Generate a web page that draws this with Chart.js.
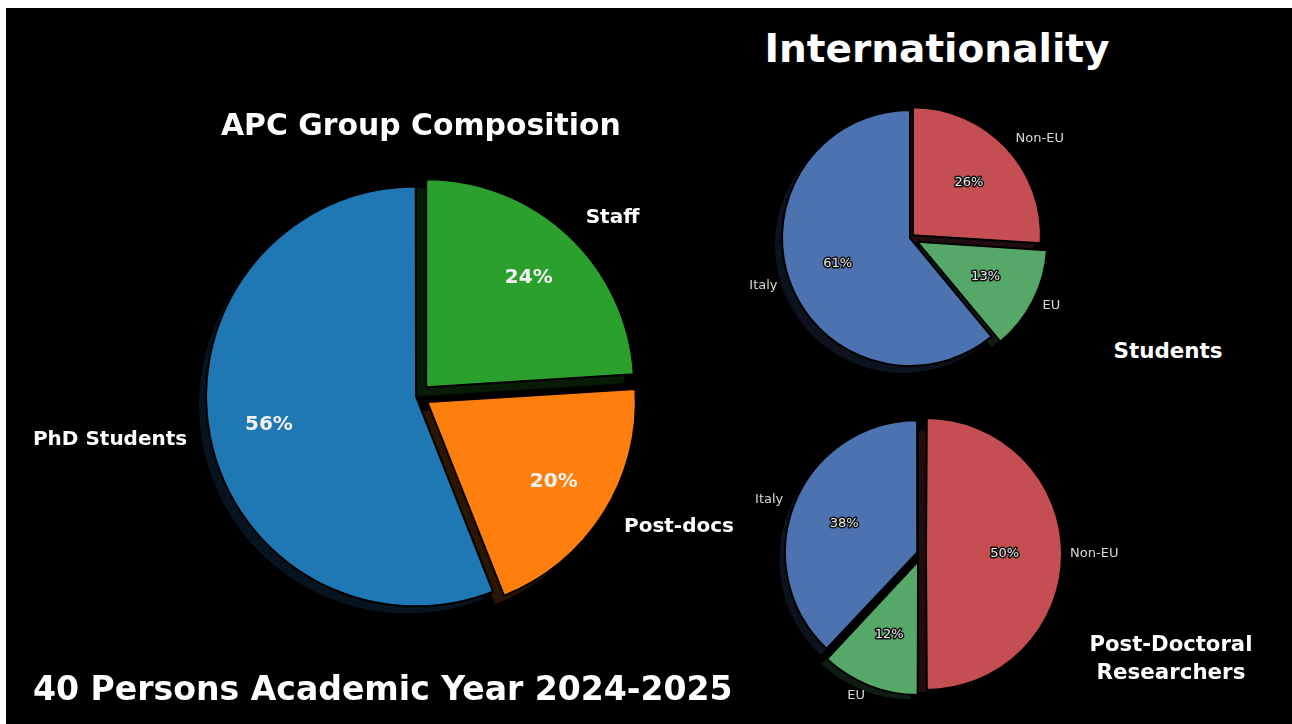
<!DOCTYPE html>
<html><head><meta charset="utf-8">
<script src="https://cdn.jsdelivr.net/npm/chart.js@4.4.1/dist/chart.umd.min.js"></script>
<style>
html,body{margin:0;padding:0;background:#fff;width:1292px;height:724px;overflow:hidden;}
#bg{position:absolute;left:6px;top:8px;width:1286px;height:716px;background:#000;}
canvas{position:absolute;}
.t{position:absolute;color:#fff;font-family:"DejaVu Sans";font-weight:bold;white-space:nowrap;line-height:1;}
</style></head><body>
<div id="bg"></div>
<canvas id="main" width="800" height="600" style="left:18px;top:96px;width:800px;height:600px"></canvas>
<canvas id="stud" width="400" height="280" style="left:710px;top:98px;width:400px;height:280px"></canvas>
<canvas id="post" width="440" height="330" style="left:701px;top:389px;width:440px;height:330px"></canvas>
<div class="t" id="tMain">APC Group Composition</div>
<div class="t" id="tInt">Internationality</div>
<div class="t" id="tStud">Students</div>
<div class="t" id="tPost1">Post-Doctoral</div>
<div class="t" id="tPost2">Researchers</div>
<div class="t" id="tFoot">40 Persons Academic Year 2024-2025</div>
<script>
// ---- data ----
const mainLabels = ['Staff', 'Post-docs', 'PhD Students'];
const mainValues = [24, 20, 56];
const studLabels = ['Non-EU', 'EU', 'Italy'];
const studValues = [26, 13, 61];
const postLabels = ['Non-EU', 'EU', 'Italy'];
const postValues = [50, 12, 38];

// ---- styles ----
const mainColors = ['#2ca02c', '#ff7f0e', '#1f77b4'];
const smallColors = ['#c44e52', '#55a868', '#4c72b0'];

function darken(hex, f) {
  const n = parseInt(hex.slice(1), 16);
  const r = Math.round(((n >> 16) & 255) * f), g = Math.round(((n >> 8) & 255) * f), b = Math.round((n & 255) * f);
  return 'rgb(' + r + ',' + g + ',' + b + ')';
}

function makeDeco(cfg) {
  return {
    id: 'pieDeco',
    beforeDatasetsDraw(chart) {
      const ctx = chart.ctx;
      const meta = chart.getDatasetMeta(0);
      ctx.save();
      meta.data.forEach((arc, i) => {
        const p = arc.getProps(['x', 'y', 'startAngle', 'endAngle', 'outerRadius'], true);
        const off = (arc.options.offset || 0) / 4;
        const mid = (p.startAngle + p.endAngle) / 2;
        const cx = p.x + Math.cos(mid) * off + cfg.sx;
        const cy = p.y + Math.sin(mid) * off + cfg.sy;
        ctx.beginPath();
        ctx.moveTo(cx, cy);
        ctx.arc(cx, cy, p.outerRadius, p.startAngle, p.endAngle);
        ctx.closePath();
        ctx.fillStyle = darken(cfg.colors[i], 0.17);
        ctx.fill();
      });
      ctx.restore();
    },
    afterDatasetsDraw(chart) {
      const ctx = chart.ctx;
      const meta = chart.getDatasetMeta(0);
      const data = chart.data.datasets[0].data;
      const total = data.reduce((a, b) => a + b, 0);
      ctx.save();
      ctx.textBaseline = 'middle';
      meta.data.forEach((arc, i) => {
        const p = arc.getProps(['x', 'y', 'startAngle', 'endAngle', 'outerRadius'], true);
        const off = (arc.options.offset || 0) / 4;
        const mid = (p.startAngle + p.endAngle) / 2;
        const c = Math.cos(mid), s = Math.sin(mid);
        const cx = p.x + c * off, cy = p.y + s * off;
        const r = cfg.radius;
        // outer label
        ctx.font = cfg.labelFont;
        ctx.fillStyle = cfg.labelColor;
        ctx.textAlign = c > 0 ? 'left' : 'right';
        ctx.fillText(chart.data.labels[i], cx + c * r * cfg.labelDist, cy + s * r * cfg.labelDist);
        // percentage
        const txt = Math.round(data[i] / total * 100) + '%';
        ctx.font = cfg.pctFont;
        ctx.textAlign = 'center';
        const px = cx + c * r * cfg.pctDist, py = cy + s * r * cfg.pctDist;
        if (cfg.pctStroke) {
          ctx.lineWidth = 3;
          ctx.strokeStyle = '#111';
          ctx.lineJoin = 'round';
          ctx.strokeText(txt, px, py);
        }
        ctx.fillStyle = cfg.pctColor;
        ctx.fillText(txt, px, py);
      });
      ctx.restore();
    }
  };
}

function pie(id, labels, values, colors, radius, offsets, deco) {
  return new Chart(document.getElementById(id), {
    type: 'pie',
    data: {
      labels: labels,
      datasets: [{
        data: values,
        backgroundColor: colors,
        borderColor: '#000',
        borderWidth: 2,
        offset: offsets
      }]
    },
    options: {
      responsive: false,
      animation: false,
      radius: radius,
      events: [],
      layout: { padding: 0 },
      plugins: { legend: { display: false }, tooltip: { enabled: false } }
    },
    plugins: [makeDeco(Object.assign({ colors: colors, radius: radius }, deco))]
  });
}

pie('main', mainLabels, mainValues, mainColors, 208, [48, 44, 8], {
  sx: -9, sy: 9, labelDist: 1.12, pctDist: 0.72,
  labelFont: 'bold 20px "DejaVu Sans"', labelColor: '#ffffff',
  pctFont: 'bold 20px "DejaVu Sans"', pctColor: '#f2f2f2', pctStroke: false
});
pie('stud', studLabels, studValues, smallColors, 128, [16, 32, 0], {
  sx: -7, sy: 7, labelDist: 1.1, pctDist: 0.6,
  labelFont: '13px "DejaVu Sans"', labelColor: '#d8d8d8',
  pctFont: '13px "DejaVu Sans"', pctColor: '#e6e6e6', pctStroke: true
});
pie('post', postLabels, postValues, smallColors, 131, [20, 32, 16], {
  sx: -7, sy: 7, labelDist: 1.1, pctDist: 0.6,
  labelFont: '13px "DejaVu Sans"', labelColor: '#d8d8d8',
  pctFont: '13px "DejaVu Sans"', pctColor: '#e6e6e6', pctStroke: true
});

// ---- page texts: fit to measured widths ----
const mctx = document.createElement('canvas').getContext('2d');
function place(id, cx, cy, width) {
  const el = document.getElementById(id);
  mctx.font = 'bold 100px "DejaVu Sans"';
  const w = mctx.measureText(el.textContent).width;
  const fs = 100 * width / w;
  el.style.fontSize = fs + 'px';
  el.style.left = (cx - width / 2) + 'px';
  el.style.top = (cy - 0.48 * fs) + 'px';
}
place('tMain', 421, 124, 400);
place('tInt', 937, 48, 345);
place('tStud', 1168, 350, 109);
place('tPost1', 1171, 643, 163);
place('tPost2', 1171, 671, 149);
place('tFoot', 383, 688, 700);
</script>
</body></html>
